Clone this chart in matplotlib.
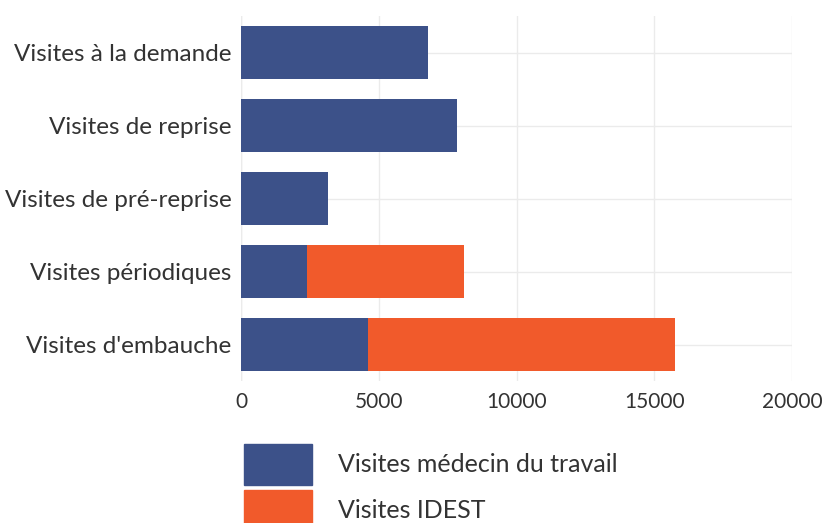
import numpy as np
import matplotlib.pyplot as plt
from matplotlib.patches import Patch

# categories from bottom to top
categories = ["Visites d'embauche", "Visites périodiques", "Visites de pré-reprise",
              "Visites de reprise", "Visites à la demande"]
medecin = [4600, 2380, 3150, 7830, 6770]
idest = [11150, 5730, 0, 0, 0]
series_names = ["Visites médecin du travail", "Visites IDEST"]
xticks = [0, 5000, 10000, 15000, 20000]

blue = "#3c5189"
orange = "#f15a2b"
txt = "#333333"

plt.rcParams['font.family'] = ['Lato', 'DejaVu Sans']

fig = plt.figure(figsize=(8.22, 5.23), dpi=100)
ax = fig.add_axes([241 / 822, 1 - 381 / 523, 551 / 822, 365 / 523])

y = np.arange(len(categories))
ax.barh(y, medecin, height=0.72, color=blue, zorder=2)
ax.barh(y, idest, left=medecin, height=0.72, color=orange, zorder=2)

ax.set_xlim(0, 20000)
ax.set_ylim(-0.5, len(categories) - 0.5)
ax.set_xticks(xticks)
ax.set_xticklabels([str(v) for v in xticks])
ax.set_yticks(y)
ax.set_yticklabels(categories)
ax.tick_params(length=0, labelcolor=txt)
ax.tick_params(axis="x", labelsize=15, pad=8)
ax.tick_params(axis="y", labelsize=17.5, pad=7)
ax.grid(True, color="#ebebeb", linewidth=1, zorder=0)
for s in ax.spines.values():
    s.set_visible(False)
ax.axvline(0, color="#e6e6e6", linewidth=1, zorder=1)

handles = [Patch(color=blue), Patch(color=orange)]
fig.legend(handles, series_names, loc="upper left",
           bbox_to_anchor=(244 / 822, 1 - 444 / 523),
           frameon=False, fontsize=18, labelcolor=txt,
           handlelength=2.72, handleheight=2.15, handletextpad=1.05,
           labelspacing=0.2, borderaxespad=0, borderpad=0)

fig.savefig("out.png", dpi=100)
